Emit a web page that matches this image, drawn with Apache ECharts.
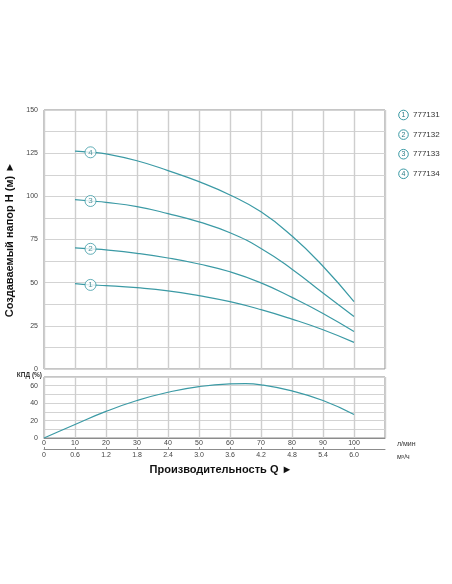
<!DOCTYPE html>
<html>
<head>
<meta charset="utf-8">
<script src="https://cdn.jsdelivr.net/npm/echarts@6/dist/echarts.min.js"></script>
<style>
html,body{margin:0;padding:0;background:#fff;}
#c{width:452px;height:584px;}
</style>
</head>
<body>
<div id="c"></div>
<script>
// ---- data ----
var flowQ = [10, 15, 20, 30, 40, 50, 60, 70, 80, 90, 100];
var head777131 = [49.4, 48.7, 48.3, 47.1, 45.3, 42.5, 39.0, 34.4, 28.9, 22.7, 15.4];
var head777132 = [70.2, 69.6, 69.0, 67.0, 64.3, 60.8, 56.3, 49.9, 41.5, 32.2, 21.7];
var head777133 = [98.1, 97.3, 96.5, 94.0, 90.0, 85.2, 78.9, 69.8, 57.8, 44.0, 30.4];
var head777134 = [126.2, 125.5, 124.6, 120.6, 114.9, 108.5, 100.8, 91.0, 77.0, 59.5, 39.0];
var modelNames = ['777131', '777132', '777133', '777134'];
var modelNums = ['1', '2', '3', '4'];

var effQ = [0, 10, 20, 30, 40, 50, 60, 65, 70, 80, 90, 100];
var effVal = [0, 15.5, 30.5, 43, 52.5, 59, 62, 62.3, 61, 54, 43, 27];

var headTicks = [0, 25, 50, 75, 100, 125, 150];
var effTicks = [0, 20, 40, 60];
var lpmTicks = [0, 10, 20, 30, 40, 50, 60, 70, 80, 90, 100];
var m3hTicks = ['0', '0.6', '1.2', '1.8', '2.4', '3.0', '3.6', '4.2', '4.8', '5.4', '6.0'];
var labelIndex = 1; // flowQ = 15

// ---- styles ----
var teal = '#3b9aa5';
var tealText = '#2d7c86';
var font = 'Liberation Sans, Arial, sans-serif';

function pairs(xs, ys) { return xs.map(function (x, i) { return [x, ys[i]]; }); }

var heads = [head777131, head777132, head777133, head777134];
var series = [];
heads.forEach(function (h, k) {
  series.push({
    type: 'line', xAxisIndex: 0, yAxisIndex: 0, name: modelNames[k],
    data: pairs(flowQ, h), smooth: 0.5, showSymbol: false, silent: true,
    lineStyle: { color: teal, width: 1.2 }, z: 3
  });
});
series.push({
  type: 'scatter', xAxisIndex: 0, yAxisIndex: 0, silent: true, z: 5,
  symbol: 'circle', symbolSize: 11,
  itemStyle: { color: '#fff', borderColor: teal, borderWidth: 1 },
  label: { show: true, position: 'inside', color: tealText, fontSize: 8, fontFamily: font,
    formatter: function (p) { return modelNums[p.dataIndex]; } },
  data: heads.map(function (h) { return [flowQ[labelIndex], h[labelIndex]]; })
});
series.push({
  type: 'line', xAxisIndex: 1, yAxisIndex: 1, data: pairs(effQ, effVal),
  smooth: 0.5, showSymbol: false, silent: true, lineStyle: { color: teal, width: 1.2 }, z: 3
});

var graphics = [];
modelNames.forEach(function (n, k) {
  var cy = 115 + k * 19.6;
  graphics.push({ type: 'circle', shape: { cx: 403.5, cy: cy, r: 4.8 },
    style: { fill: '#fff', stroke: teal, lineWidth: 1 } });
  graphics.push({ type: 'text', x: 403.5, y: cy, style: { text: modelNums[k], fill: tealText,
    font: '7px ' + font, textAlign: 'center', textVerticalAlign: 'middle' } });
  graphics.push({ type: 'text', x: 413, y: cy, style: { text: n, fill: '#333',
    font: '8px ' + font, textAlign: 'left', textVerticalAlign: 'middle' } });
});
graphics.push({ type: 'text', x: 42, y: 375, style: { text: 'КПД (%)', fill: '#333',
  font: 'bold 6.5px ' + font, textAlign: 'right', textVerticalAlign: 'middle' } });
graphics.push({ type: 'text', x: 397, y: 444, style: { text: 'л/мин', fill: '#333',
  font: '7px ' + font, textAlign: 'left', textVerticalAlign: 'middle' } });
graphics.push({ type: 'text', x: 397, y: 457, style: { text: 'м³/ч', fill: '#333',
  font: '7px ' + font, textAlign: 'left', textVerticalAlign: 'middle' } });
graphics.push({ type: 'text', x: 221, y: 470, style: { text: 'Производительность Q ►', fill: '#111',
  font: 'bold 11px ' + font, textAlign: 'center', textVerticalAlign: 'middle' } });

var splitV = { show: true, lineStyle: { color: '#cecece', width: 1.4 } };
var splitH = { show: true, lineStyle: { color: '#d3d3d3', width: 1 } };
var lblStyle = { fontSize: 7, color: '#444', fontFamily: font };

var option = {
  animation: false,
  backgroundColor: '#fff',
  grid: [
    { left: 44, top: 110, width: 341, height: 259, show: true, borderColor: '#8c8c8c', borderWidth: 1,
      backgroundColor: 'transparent', containLabel: false, outerBoundsMode: 'none' },
    { left: 44, top: 377, width: 341, height: 61, show: true, borderColor: '#8c8c8c', borderWidth: 1,
      backgroundColor: 'transparent', containLabel: false, outerBoundsMode: 'none' }
  ],
  xAxis: [
    { type: 'value', gridIndex: 0, min: 0, max: 110, interval: 10,
      axisLabel: { show: false }, axisTick: { show: false }, axisLine: { show: false }, splitLine: splitV },
    { type: 'value', gridIndex: 1, min: 0, max: 110, interval: 10,
      axisLabel: Object.assign({ margin: 2, formatter: function (v) { return lpmTicks.indexOf(v) >= 0 ? String(v) : ''; } }, lblStyle),
      axisTick: { show: false }, axisLine: { show: true, lineStyle: { color: '#8c8c8c' } }, splitLine: splitV },
    { type: 'value', gridIndex: 1, min: 0, max: 110, interval: 10, position: 'bottom', offset: 11,
      axisLabel: Object.assign({ margin: 3, formatter: function (v) { var i = Math.round(v / 10); return (i < m3hTicks.length) ? m3hTicks[i] : ''; } }, lblStyle),
      axisTick: { show: true, inside: true, length: 2, lineStyle: { color: '#8c8c8c' },
        customValues: lpmTicks },
      axisLine: { show: true, lineStyle: { color: '#8c8c8c' } }, splitLine: { show: false } }
  ],
  yAxis: [
    { type: 'value', gridIndex: 0, min: 0, max: 150, interval: 12.5,
      name: 'Создаваемый напор H (м) ►', nameLocation: 'middle', nameGap: 27, nameRotate: 90,
      nameTextStyle: { fontSize: 11, fontWeight: 'bold', color: '#111', fontFamily: font },
      axisLabel: Object.assign({ margin: 6, formatter: function (v) { return headTicks.indexOf(v) >= 0 ? String(v) : ''; } }, lblStyle),
      axisTick: { show: false }, axisLine: { show: false }, splitLine: splitH },
    { type: 'value', gridIndex: 1, min: 0, max: 70, interval: 10,
      axisLabel: Object.assign({ margin: 6, formatter: function (v) { return effTicks.indexOf(v) >= 0 ? String(v) : ''; } }, lblStyle),
      axisTick: { show: false }, axisLine: { show: false }, splitLine: splitH }
  ],
  graphic: graphics,
  series: series
};

var chart = echarts.init(document.getElementById('c'), null, { renderer: 'canvas' });
chart.setOption(option);
</script>
</body>
</html>
